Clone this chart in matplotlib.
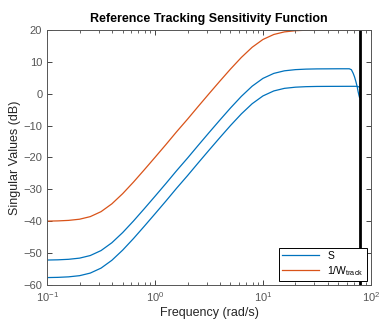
import numpy as np
import matplotlib
matplotlib.use("Agg")
import matplotlib.pyplot as plt

plt.rcParams["font.family"] = ["Liberation Sans", "DejaVu Sans"]
plt.rcParams["mathtext.fontset"] = "custom"
plt.rcParams["mathtext.rm"] = "Liberation Sans"

# frequencies (rad/s) read along the x axis
freq = [0.1, 0.126, 0.158, 0.2, 0.251, 0.316, 0.398, 0.501, 0.631, 0.794,
        1.0, 1.26, 1.58, 2.0, 2.51, 3.16, 3.98, 5.01, 6.31, 7.94,
        10.0, 12.6, 15.8, 20.0, 25.1, 31.6, 39.8, 50.1, 63.1, 66.0,
        68.5, 70.5, 72.6, 74.5, 76.2, 77.5, 78.5]

# 1/W_track (dB)
inv_w = [-39.96, -39.89, -39.73, -39.36, -38.55, -36.99, -34.54, -31.36, -27.73, -23.89,
         -19.96, -15.98, -11.99, -8.0, -4.02, -0.04, 3.89, 7.73, 11.36, 14.54,
         16.99, 18.55, 19.36, 19.73, 19.89, 19.96, 19.98, 19.99, 20.0, 20.0,
         20.0, 20.0, 20.0, 20.0, 20.0, 20.0, 20.0]

# S, upper singular value (dB)
s_hi = [-52.16, -52.09, -51.93, -51.56, -50.75, -49.19, -46.74, -43.56, -39.93, -36.09,
        -32.16, -28.18, -24.19, -20.2, -16.22, -12.24, -8.31, -4.47, -0.84, 2.34,
        4.79, 6.35, 7.16, 7.53, 7.69, 7.76, 7.78, 7.8, 7.8, 7.5,
        6.4, 5.3, 3.8, 2.3, 0.6, -0.5, -1.2]

# S, lower singular value (dB)
s_lo = [-57.66, -57.59, -57.43, -57.06, -56.25, -54.69, -52.24, -49.06, -45.43, -41.59,
        -37.66, -33.68, -29.69, -25.7, -21.72, -17.74, -13.81, -9.97, -6.34, -3.16,
        -0.71, 0.85, 1.66, 2.03, 2.19, 2.26, 2.28, 2.29, 2.3, 2.3,
        2.3, 2.3, 2.3, 2.3, 2.2, 2.1, 2.0]

f_line = 78.5

blue = "#0072BD"
orange = "#D95319"
axc = "#262626"

fig = plt.figure(figsize=(3.8, 3.21), dpi=100)
ax = fig.add_axes([0.124, 0.112, 0.852, 0.795])

ax.semilogx(freq, s_hi, color=blue, lw=0.9, label="S")
ax.semilogx(freq, s_lo, color=blue, lw=0.9)
ax.semilogx(freq, inv_w, color=orange, lw=0.9, label=r"1/W$_{\mathrm{track}}$")
ax.axvline(f_line, color="black", lw=2)

ax.set_xlim(0.1, 100)
ax.set_ylim(-60, 20)
ax.set_yticks(np.arange(-60, 21, 10))
ax.set_title("Reference Tracking Sensitivity Function", fontsize=9, fontweight="bold", pad=6)
ax.set_xlabel("Frequency (rad/s)", fontsize=9, color=axc, labelpad=2.5)
ax.set_ylabel("Singular Values (dB)", fontsize=9, color=axc, labelpad=2)

ax.tick_params(which="both", direction="in", top=True, right=True, labelsize=8,
               colors=axc, labelcolor="#555555")
ax.tick_params(which="major", length=3.5, width=0.6)
ax.tick_params(which="minor", length=2, width=0.5)
for sp in ax.spines.values():
    sp.set_color("#555555")
    sp.set_linewidth(0.7)

leg = ax.legend(loc="lower right", fontsize=7.5, fancybox=False, framealpha=1,
                borderaxespad=0.4, handlelength=3.5, borderpad=0.3, labelspacing=0.3)
leg.get_frame().set_edgecolor("black")
leg.get_frame().set_linewidth(0.7)

fig.savefig("out.png", dpi=100)
